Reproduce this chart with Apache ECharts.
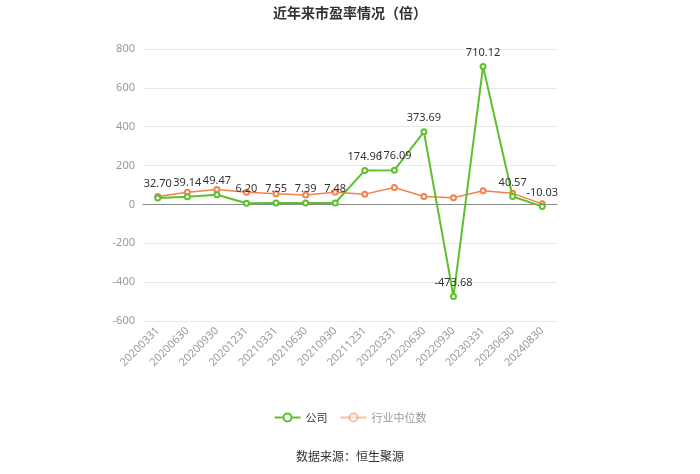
<!DOCTYPE html>
<html><head><meta charset="utf-8">
<script src="https://cdn.jsdelivr.net/npm/echarts@6/dist/echarts.min.js"></script>
<style>html,body{margin:0;padding:0;background:#fff}#c{width:700px;height:474px}</style>
</head><body><div id="c"></div>
<script>
const categories = ['20200331','20200630','20200930','20201231','20210331','20210630','20210930','20211231','20220331','20220630','20220930','20230331','20230630','20240830'];
const companyValues = [32.70,39.14,49.47,6.20,7.55,7.39,7.48,174.96,176.09,373.69,-473.68,710.12,40.57,-10.03];
const industryValues = [41,63,77,63,55,48,63,53,87,41,34,70,57,3];
const yTicks = {min:-600, max:800, interval:200};

const chart = echarts.init(document.getElementById('c'));
chart.setOption({
  backgroundColor:'#fff',
  title:{text:'近年来市盈率情况（倍）', left:'center', top:1,
    textStyle:{fontSize:14, fontWeight:'bold', color:'#333', fontFamily:'Noto Sans CJK SC'}},
  grid:{left:143, right:143, top:49, bottom:153},
  legend:{bottom:46, itemWidth:26, itemHeight:10, itemGap:12,
    textStyle:{fontSize:11, fontFamily:'Noto Sans CJK SC'},
    data:[{name:'公司', textStyle:{color:'#333'}},
          {name:'行业中位数', textStyle:{color:'#999'}, itemStyle:{opacity:0.5}, lineStyle:{opacity:0.5}}]},
  graphic:[{type:'text', left:'center', top:450,
    style:{text:'数据来源：恒生聚源', fontSize:12, fill:'#333', fontFamily:'Noto Sans CJK SC'}}],
  xAxis:{type:'category', data:categories, boundaryGap:true,
    axisLine:{lineStyle:{color:'#888'}}, axisTick:{alignWithLabel:true, lineStyle:{color:'#888'}},
    axisLabel:{rotate:45, color:'#999', fontSize:11, interval:0, fontFamily:'Noto Sans'}},
  yAxis:{type:'value', min:yTicks.min, max:yTicks.max, interval:yTicks.interval,
    axisLine:{show:false}, axisTick:{show:false},
    axisLabel:{color:'#999', fontSize:11, fontFamily:'Noto Sans'},
    splitLine:{lineStyle:{color:'#e8e8e8'}}},
  series:[
    {name:'公司', type:'line', data:companyValues, color:'#5cc12b',
      symbol:'emptyCircle', symbolSize:5, lineStyle:{width:2},
      label:{show:true, position:'top', color:'#333', fontSize:11, fontFamily:'Noto Sans',
        formatter:p=>p.value.toFixed(2)}, z:3},
    {name:'行业中位数', type:'line', data:industryValues, color:'#f4814f',
      symbol:'emptyCircle', symbolSize:5, lineStyle:{width:1.5}, z:2}
  ]
});
</script></body></html>
